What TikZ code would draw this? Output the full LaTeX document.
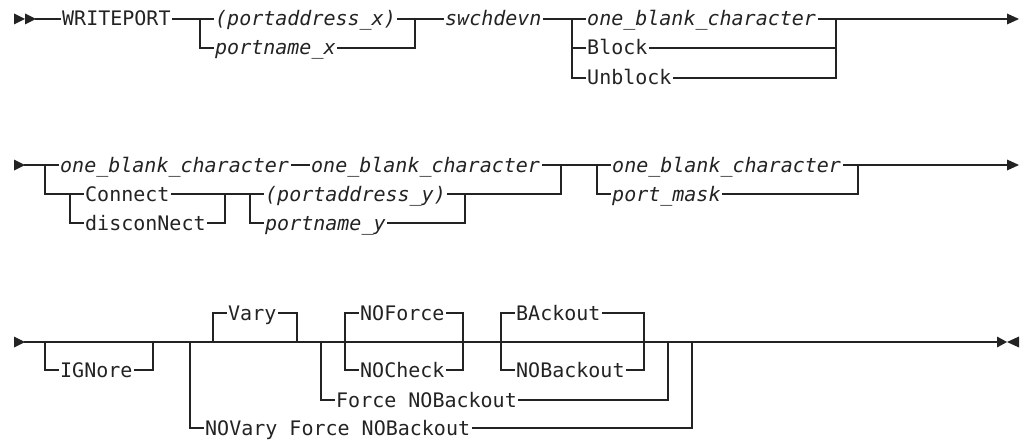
\documentclass[tikz,border=0pt]{standalone}
\usepackage{fontspec}
\newfontfamily\rrf{DejaVu Sans Mono}
\definecolor{ink}{RGB}{35,35,35}
\begin{document}
\begin{tikzpicture}[x=1pt,y=-1pt,
  ln/.style={draw=ink, line width=1.2pt, line cap=rect},
  kw/.style={font=\rrf\fontsize{20}{24}\selectfont, text=ink, inner xsep=2pt, inner ysep=0pt, text height=14pt, text depth=0pt, anchor=west},
  vr/.style={kw, font=\rrf\itshape\fontsize{20}{24}\selectfont},
  tip/.style={fill=ink}]
\useasboundingbox (0,0) rectangle (1024,441);
% ---------------- row 1
\fill[tip] (14,13.5) -- (25,19) -- (14,24.5) -- cycle;
\fill[tip] (25,13.5) -- (36,19) -- (25,24.5) -- cycle;
\coordinate (s1) at (36,19);
\node[kw] (wp) at (60,19) {WRITEPORT};
\coordinate (a1) at (200,19);
\coordinate (a2) at (415,19);
\node[vr] (pax) at (213,19) {(portaddress\_x)};
\node[vr] (pnx) at (213,48) {portname\_x};
\node[vr] (swd) at (443,19) {swchdevn};
\coordinate (a3) at (572,19);
\coordinate (a4) at (836,19);
\node[vr] (ob1) at (585,19) {one\_blank\_character};
\node[kw] (blk) at (585,48) {Block};
\node[kw] (ublk) at (585,78) {Unblock};
\coordinate (e1) at (1007,19);
\fill[tip] (1007,13.5) -- (1019,19) -- (1007,24.5) -- cycle;
\draw[ln] (s1) -- (wp.west) (wp.east) -- (a1) -- (pax.west) (a1) |- (pnx.west)
  (pax.east) -- (a2) (pnx.east) -| (a2) (a2) -- (swd.west)
  (swd.east) -- (a3) -- (ob1.west) (a3) |- (blk.west) (a3) |- (ublk.west)
  (ob1.east) -- (a4) (blk.east) -| (a4) (ublk.east) -| (a4) (a4) -- (e1);
% ---------------- row 2
\fill[tip] (14,159.5) -- (25,165) -- (14,170.5) -- cycle;
\coordinate (s2) at (25,165);
\coordinate (b1) at (45,165);
\coordinate (b1d) at (45,194);
\node[vr] (ob2) at (58,165) {one\_blank\_character};
\node[vr] (ob3) at (309,165) {one\_blank\_character};
\coordinate (b2) at (70,194);
\node[kw] (con) at (83,194) {Connect};
\node[kw] (dis) at (83,223) {disconNect};
\coordinate (b3) at (225,194);
\coordinate (b4) at (250,194);
\node[vr] (pay) at (263,194) {(portaddress\_y)};
\node[vr] (pny) at (263,223) {portname\_y};
\coordinate (b5) at (465,194);
\coordinate (b6) at (561,165);
\coordinate (b7) at (597,165);
\node[vr] (ob4) at (610,165) {one\_blank\_character};
\node[vr] (pm) at (610,194) {port\_mask};
\coordinate (b8) at (858,165);
\coordinate (e2) at (1007,165);
\fill[tip] (1007,159.5) -- (1019,165) -- (1007,170.5) -- cycle;
\draw[ln] (s2) -- (b1) -- (ob2.west) (ob2.east) -- (ob3.west) (ob3.east) -- (b6) -- (b7) -- (ob4.west)
  (b1) -- (b1d) -- (b2) -- (con.west) (b2) |- (dis.west)
  (con.east) -- (b3) (dis.east) -| (b3) (b3) -- (b4) -- (pay.west) (b4) |- (pny.west)
  (pay.east) -- (b5) (pny.east) -| (b5) (b5) -| (b6)
  (b7) |- (pm.west) (ob4.east) -- (b8) (pm.east) -| (b8) (b8) -- (e2);
% ---------------- row 3
\fill[tip] (14,336.5) -- (25,342) -- (14,347.5) -- cycle;
\coordinate (s3) at (25,342);
\coordinate (c1) at (45,342);
\coordinate (c2) at (153,342);
\coordinate (c3) at (190,342);
\coordinate (c4) at (213,342);
\coordinate (c5) at (297,342);
\coordinate (c6) at (321,342);
\coordinate (c7) at (345,342);
\coordinate (c8) at (463,342);
\coordinate (c9) at (501,342);
\coordinate (c10) at (644,342);
\coordinate (c11) at (668,342);
\coordinate (c12) at (692,342);
\coordinate (e3) at (997,342);
\node[kw] (ign) at (58,370) {IGNore};
\node[kw] (nov) at (203,428) {NOVary Force NOBackout};
\node[kw] (vary) at (226,313) {Vary};
\node[kw] (fnb) at (334,400) {Force NOBackout};
\node[kw] (nof) at (358,313) {NOForce};
\node[kw] (noc) at (358,370) {NOCheck};
\node[kw] (bak) at (514,313) {BAckout};
\node[kw] (nbk) at (514,370) {NOBackout};
\fill[tip] (997,336.5) -- (1007,342) -- (997,347.5) -- cycle;
\fill[tip] (1019,336.5) -- (1007,342) -- (1019,347.5) -- cycle;
\draw[ln] (s3) -- (c1) -- (c2) -- (c3) -- (c4) -- (c5) -- (c6) -- (c7) -- (c8) -- (c9) -- (c10) -- (c11) -- (c12) -- (e3)
  (c1) |- (ign.west) (ign.east) -| (c2)
  (c3) |- (nov.west) (nov.east) -| (c12)
  (c4) |- (vary.west) (vary.east) -| (c5)
  (c6) |- (fnb.west) (fnb.east) -| (c11)
  (c7) |- (nof.west) (c7) |- (noc.west) (nof.east) -| (c8) (noc.east) -| (c8)
  (c9) |- (bak.west) (c9) |- (nbk.west) (bak.east) -| (c10) (nbk.east) -| (c10);
\end{tikzpicture}
\end{document}
